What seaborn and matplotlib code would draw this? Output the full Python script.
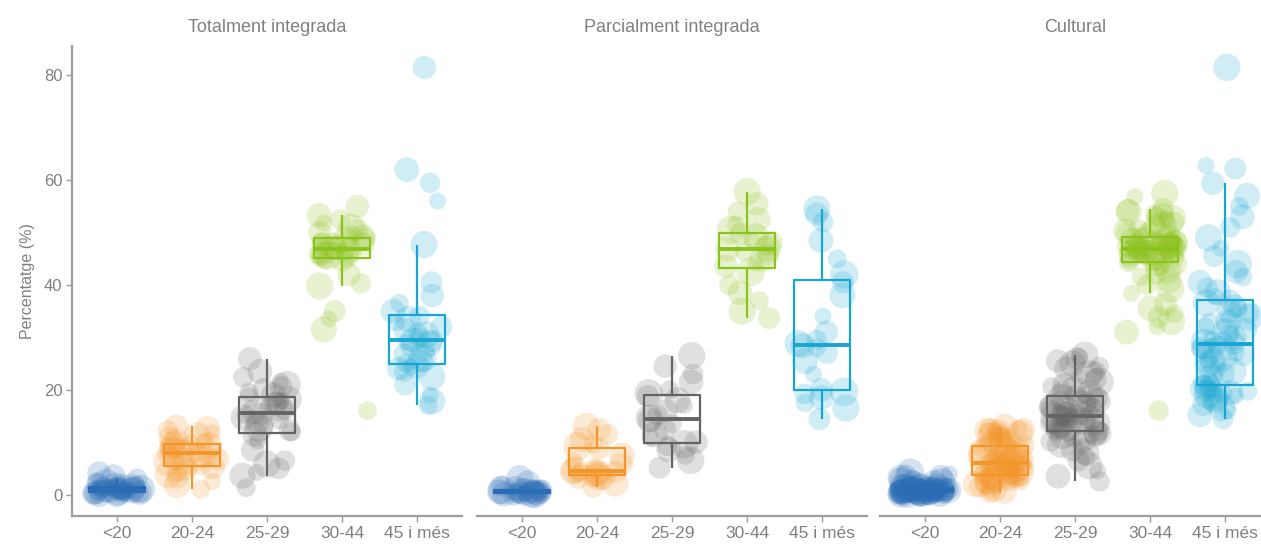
import numpy as np
import pandas as pd
import matplotlib.pyplot as plt
import seaborn as sns

edats = ["<20", "20-24", "25-29", "30-44", "45 i més"]
panells = ["Totalment integrada", "Parcialment integrada", "Cultural"]
colors = ["#2a6db4", "#f3962a", "#646464", "#8cc21c", "#17a6d2"]

# Totalment integrada
tot_pes = [3, 8, 2, 5, 9, 4, 6, 2, 7, 3, 5, 10, 4, 6, 3, 8, 2, 5, 7, 4, 9, 3, 6, 5, 2, 8, 4, 7, 3, 6, 5, 9, 2, 4, 7, 6]
tot_u20 = [0.0, 0.1, 0.1, 0.2, 0.2, 0.3, 0.3, 0.4, 0.4, 0.5, 0.5, 0.6, 0.6, 0.7, 0.8, 0.8, 0.9, 0.9,
           1.0, 1.0, 1.1, 1.2, 1.2, 1.3, 1.4, 1.5, 1.5, 1.6, 1.8, 1.9, 2.1, 2.3, 2.6, 3.0, 3.4, 4.1]
tot_2024 = [1.0, 1.8, 2.5, 3.2, 3.8, 4.3, 4.8, 5.1, 5.3, 5.5, 5.8, 6.2, 6.5, 6.8, 7.1, 7.4, 7.6, 7.8,
            7.9, 8.1, 8.3, 8.6, 8.8, 9.0, 9.2, 9.4, 9.6, 9.7, 10.0, 10.4, 10.8, 11.2, 11.7, 12.2, 12.6, 13.0]
tot_2529 = [1.3, 3.6, 4.2, 5.0, 5.8, 6.5, 8.5, 10.2, 11.5, 11.9, 12.3, 12.8, 13.3, 13.8, 14.2, 14.7, 15.1, 15.4,
            15.8, 16.1, 16.5, 16.9, 17.3, 17.6, 17.9, 18.2, 18.5, 19.0, 19.5, 20.0, 20.5, 21.0, 21.6, 22.4, 23.5, 25.9]
tot_3044 = [16.0, 31.5, 33.5, 35.0, 39.8, 40.3, 42.0, 44.6, 45.0, 45.2, 45.4, 45.6, 45.8, 46.0, 46.2, 46.5, 46.7, 46.9,
            47.0, 47.2, 47.4, 47.6, 47.8, 48.0, 48.3, 48.6, 48.9, 49.2, 49.5, 50.0, 50.5, 51.0, 51.8, 52.5, 53.3, 55.0]
tot_45 = [17.0, 17.8, 19.0, 21.0, 22.5, 23.5, 24.0, 24.3, 24.5, 25.0, 25.5, 26.0, 26.8, 27.5, 28.2, 28.8, 29.1, 29.3,
          29.5, 30.0, 30.5, 31.0, 31.5, 32.0, 32.8, 33.5, 34.0, 35.0, 36.5, 38.0, 40.5, 47.7, 56.0, 59.5, 62.0, 81.5]

# Parcialment integrada
par_pes = [5, 9, 3, 7, 4, 10, 6, 2, 8, 5, 3, 7, 9, 4, 6, 2, 8, 5, 10, 3, 7, 4, 6, 9]
par_u20 = [0.0, 0.0, 0.1, 0.1, 0.2, 0.2, 0.3, 0.3, 0.4, 0.4, 0.5, 0.5,
           0.5, 0.6, 0.6, 0.7, 0.7, 0.8, 0.9, 1.0, 1.2, 1.6, 2.4, 3.0]
par_2024 = [1.5, 2.2, 2.8, 3.2, 3.4, 3.6, 3.8, 4.0, 4.2, 4.3, 4.3, 4.4,
            4.6, 5.0, 5.8, 6.5, 7.4, 8.8, 9.2, 9.6, 10.5, 11.5, 12.4, 13.0]
par_2529 = [5.1, 6.5, 7.5, 8.5, 9.3, 9.6, 10.0, 10.8, 11.5, 12.5, 13.5, 14.2,
            14.6, 15.2, 16.0, 17.0, 18.0, 18.8, 19.3, 20.0, 21.5, 23.0, 24.5, 26.5]
par_3044 = [33.7, 35.0, 37.0, 38.5, 40.0, 42.5, 43.6, 44.2, 45.0, 45.8, 46.4, 46.8,
            47.0, 47.4, 48.0, 48.6, 49.3, 49.8, 50.5, 51.5, 52.5, 54.0, 55.5, 57.8]
par_45 = [14.4, 16.5, 17.5, 18.5, 19.2, 19.6, 20.0, 23.0, 25.5, 27.0, 28.0, 28.4,
          28.8, 29.5, 31.0, 34.0, 38.0, 40.5, 42.0, 45.0, 48.5, 52.0, 53.5, 54.5]

# Cultural
cul_pes = [4, 7, 2, 9, 5, 3, 8, 6, 2, 10, 4, 7, 3, 5, 9, 2, 6, 8, 4, 3, 7, 5, 10, 2, 6, 4, 8, 3, 9, 5, 2, 7, 4, 6, 10, 3,
           5, 8, 2, 7, 4, 9, 6, 3, 5, 8, 2, 10, 4, 7, 3, 6, 9, 5, 2, 8, 4, 7, 3, 6, 10, 5, 2, 9, 4, 7, 3, 8, 6, 5, 2, 9]
cul_u20 = [0.0, 0.0, 0.0, 0.1, 0.1, 0.1, 0.1, 0.2, 0.2, 0.2, 0.2, 0.3, 0.3, 0.3, 0.3, 0.3, 0.4, 0.4,
           0.4, 0.4, 0.5, 0.5, 0.5, 0.5, 0.5, 0.6, 0.6, 0.6, 0.6, 0.6, 0.7, 0.7, 0.7, 0.7, 0.7, 0.7,
           0.8, 0.8, 0.8, 0.8, 0.9, 0.9, 0.9, 0.9, 1.0, 1.0, 1.0, 1.1, 1.1, 1.1, 1.2, 1.2, 1.3, 1.3,
           1.4, 1.4, 1.5, 1.6, 1.7, 1.8, 1.9, 2.0, 2.2, 2.4, 2.6, 2.8, 3.0, 3.2, 3.4, 3.6, 3.9, 4.3]
cul_2024 = [0.3, 0.6, 0.9, 1.2, 1.5, 1.8, 2.0, 2.2, 2.4, 2.6, 2.8, 3.0, 3.1, 3.2, 3.3, 3.4, 3.5, 3.6,
            3.7, 3.9, 4.0, 4.2, 4.4, 4.5, 4.7, 4.8, 5.0, 5.1, 5.2, 5.4, 5.5, 5.6, 5.7, 5.8, 5.8, 5.9,
            6.0, 6.1, 6.3, 6.5, 6.7, 6.9, 7.1, 7.3, 7.5, 7.7, 7.9, 8.1, 8.3, 8.5, 8.7, 8.9, 9.1, 9.3,
            9.5, 9.7, 10.0, 10.2, 10.5, 10.8, 11.0, 11.2, 11.4, 11.6, 11.8, 12.0, 12.1, 12.2, 12.4, 12.5, 12.6, 12.8]
cul_2529 = [2.5, 3.5, 4.5, 5.5, 6.5, 7.3, 8.0, 8.6, 9.2, 9.7, 10.1, 10.5, 10.8, 11.1, 11.3, 11.5, 11.7, 11.9,
            12.1, 12.3, 12.5, 12.7, 12.9, 13.1, 13.3, 13.5, 13.7, 13.9, 14.1, 14.3, 14.5, 14.6, 14.7, 14.8, 14.8, 14.9,
            15.0, 15.2, 15.4, 15.6, 15.8, 16.0, 16.2, 16.4, 16.6, 16.8, 17.0, 17.2, 17.5, 17.8, 18.0, 18.3, 18.5, 18.8,
            19.1, 19.4, 19.8, 20.2, 20.6, 21.0, 21.5, 22.0, 22.5, 23.0, 23.5, 24.0, 24.5, 25.0, 25.5, 26.0, 26.3, 26.6]
cul_3044 = [16.0, 31.0, 32.0, 33.0, 33.8, 34.5, 35.5, 36.3, 38.4, 39.3, 40.0, 40.8, 41.5, 42.2, 42.8, 43.3, 43.8, 44.1,
            44.4, 44.7, 45.0, 45.2, 45.4, 45.6, 45.8, 46.0, 46.1, 46.2, 46.3, 46.4, 46.5, 46.6, 46.7, 46.8, 46.9, 46.9,
            47.0, 47.1, 47.2, 47.3, 47.4, 47.5, 47.6, 47.7, 47.8, 47.9, 48.0, 48.1, 48.2, 48.3, 48.5, 48.7, 48.9, 49.1,
            49.3, 49.6, 49.9, 50.3, 50.7, 51.2, 51.5, 51.9, 52.3, 52.7, 53.0, 53.3, 53.6, 53.9, 54.2, 54.5, 56.8, 57.5]
cul_45 = [14.4, 15.2, 16.0, 16.6, 17.1, 17.6, 18.0, 18.4, 18.8, 19.1, 19.3, 19.5, 19.7, 19.9, 20.1, 20.3, 20.5, 20.7,
          21.0, 21.4, 22.6, 23.0, 23.5, 24.0, 24.5, 25.0, 25.4, 25.8, 26.2, 26.6, 27.0, 27.4, 27.8, 28.1, 28.3, 28.5,
          28.8, 29.2, 29.6, 30.0, 30.5, 31.0, 31.5, 32.0, 32.5, 33.0, 33.5, 34.0, 34.5, 35.0, 35.5, 36.0, 36.5, 37.0,
          37.8, 38.6, 39.5, 40.5, 41.5, 42.5, 44.0, 45.5, 47.0, 49.0, 51.0, 53.0, 55.0, 57.0, 59.4, 62.2, 62.8, 81.5]

dades = {
    "Totalment integrada": (tot_pes, [tot_u20, tot_2024, tot_2529, tot_3044, tot_45]),
    "Parcialment integrada": (par_pes, [par_u20, par_2024, par_2529, par_3044, par_45]),
    "Cultural": (cul_pes, [cul_u20, cul_2024, cul_2529, cul_3044, cul_45]),
}

rows = []
for panell, (pes, grups) in dades.items():
    for edat, vals in zip(edats, grups):
        for p, v in zip(pes, vals):
            rows.append({"panell": panell, "edat": edat, "pct": v, "pes": p})
df = pd.DataFrame(rows)
df["edat"] = pd.Categorical(df["edat"], categories=edats, ordered=True)
df["codi"] = df["edat"].cat.codes

sns.set_theme(style="white")
plt.rcParams["font.family"] = ["Liberation Sans", "DejaVu Sans"]

grey_axis = "#9c9c9c"
grey_text = "#808080"
pal = dict(zip(edats, colors))
rng = np.random.default_rng(11)

fig = plt.figure(figsize=(12.61, 5.48), dpi=100)
W, H = 1261, 548
lefts = [72, 477, 880]

for i, panell in enumerate(panells):
    ax = fig.add_axes([lefts[i] / W, 32 / H, 390 / W, 470 / H])
    sub = df[df["panell"] == panell].copy()
    # jitter horitzontal dels punts
    sub["xj"] = sub["codi"] + rng.uniform(-0.34, 0.34, len(sub))

    sns.scatterplot(
        data=sub, x="xj", y="pct", hue="edat", palette=pal,
        size="pes", sizes=(150, 420), size_norm=(2, 10), alpha=0.2, linewidth=0,
        legend=False, ax=ax, zorder=1,
    )
    sns.boxplot(
        data=sub, x="codi", y="pct", hue="edat", palette=pal, native_scale=True,
        fill=False, width=0.75, showfliers=False, showcaps=False, whis=1.5,
        linewidth=1.6, legend=False, ax=ax,
        medianprops={"linewidth": 2.8}, boxprops={"zorder": 3},
        whiskerprops={"zorder": 3},
    )

    ax.set_xlim(-0.6, 4.6)
    ax.set_ylim(-4.1, 85.6)
    ax.set_xticks(range(len(edats)))
    ax.set_xticklabels(edats)
    ax.set_xlabel("")
    ax.set_title(panell, color=grey_text, fontsize=13, pad=10)
    for s in ["top", "right"]:
        ax.spines[s].set_visible(False)
    ax.spines["bottom"].set_color(grey_axis)
    ax.spines["bottom"].set_linewidth(1.6)
    ax.tick_params(axis="x", bottom=True, length=4, width=1, color=grey_axis,
                   labelcolor=grey_text, labelsize=12.5, pad=3)
    if i == 0:
        ax.spines["left"].set_color(grey_axis)
        ax.spines["left"].set_linewidth(1.6)
        ax.set_yticks([0, 20, 40, 60, 80])
        ax.tick_params(axis="y", left=True, length=4, width=1, color=grey_axis,
                       labelcolor=grey_text, labelsize=12, pad=3)
        ax.set_ylabel("Percentatge (%)", color=grey_text, fontsize=11.5, labelpad=6)
    else:
        ax.spines["left"].set_visible(False)
        ax.set_yticks([])
        ax.set_ylabel("")

fig.savefig("out.png", dpi=100)
